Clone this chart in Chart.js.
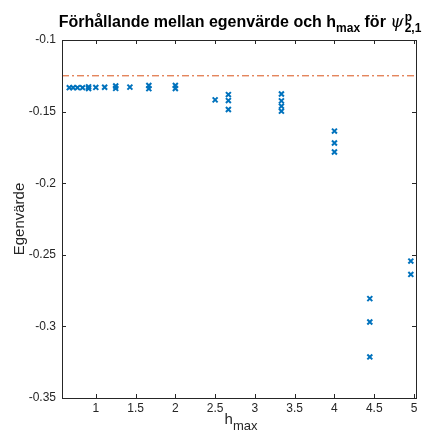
<!DOCTYPE html>
<html>
<head>
<meta charset="utf-8">
<script src="https://cdn.jsdelivr.net/npm/chart.js@4.4.0/dist/chart.umd.min.js"></script>
<style>
  html, body { margin: 0; padding: 0; background: #fff; }
  #wrap { position: relative; width: 422px; height: 432px; }
  #title {
    position: absolute; left: 240px; top: 11px; transform: translateX(-50%);
    white-space: nowrap; font: bold 16px "Liberation Sans", Arial, sans-serif; color: #000;
  }
  #title sub { font-size: 12px; vertical-align: -5px; }
  #title .psi { font: italic 17px "DejaVu Serif", serif; font-weight: normal; }
  #title .ss { display: inline-block; vertical-align: -5px; line-height: 11px; font-size: 12px; text-align: left; margin-left: 1px; }
  #xlabel {
    position: absolute; left: 241px; top: 410px; transform: translateX(-50%);
    white-space: nowrap; font: 15px "Liberation Sans", Arial, sans-serif; color: #262626;
    line-height: 17px;
  }
  #xlabel sub { font-size: 13px; vertical-align: -6px; line-height: 0; }
</style>
</head>
<body>
<div id="wrap">
  <canvas id="chart-eigen" width="422" height="432"></canvas>
  <div id="title">Förhållande mellan egenvärde och h<sub>max</sub> för <span class="psi">ψ</span><span class="ss">p<br>2,1</span></div>
  <div id="xlabel">h<sub>max</sub></div>
</div>
<script>
// data
var hmax = [0.6667, 0.7143, 0.7692, 0.8333, 0.9091, 0.9091, 1.0, 1.1111, 1.25, 1.25,
            1.4286, 1.6667, 1.6667, 2.0, 2.0, 2.5, 2.6667, 2.6667, 2.6667,
            3.3333, 3.3333, 3.3333, 3.3333, 4.0, 4.0, 4.0, 4.4444, 4.4444, 4.4444, 4.96, 4.96];
var egenvarde = [-0.1333, -0.1333, -0.1333, -0.1333, -0.1327, -0.1339, -0.1331, -0.1330, -0.1321, -0.1338,
                 -0.1329, -0.1318, -0.1340, -0.1317, -0.1339, -0.1418, -0.1381, -0.1423, -0.1485,
                 -0.1377, -0.1425, -0.1462, -0.1497, -0.1636, -0.1719, -0.1782, -0.2806, -0.2969, -0.3213, -0.2544, -0.2637];
var referens = -0.125;
var xTicks = [1, 1.5, 2, 2.5, 3, 3.5, 4, 4.5, 5];
var yTicks = [-0.35, -0.3, -0.25, -0.2, -0.15, -0.1];
var xMin = 0.575, xMax = 5.025;

var points = hmax.map(function (h, i) { return { x: h, y: egenvarde[i] }; });
var refLine = [{ x: xMin, y: referens }, { x: xMax, y: referens }];

var axisColor = '#262626';
var tickFont = { family: '"Liberation Sans", Arial, sans-serif', size: 12 };

// box round the plot with inward tick marks, like the original figure
var boxTicks = {
    id: 'boxTicks',
    afterDraw: function (chart) {
        var c = chart.ctx, a = chart.chartArea, sx = chart.scales.x, sy = chart.scales.y;
        c.save();
        c.strokeStyle = axisColor;
        c.lineWidth = 1;
        c.strokeRect(Math.round(a.left) + 0.5, Math.round(a.top) + 0.5,
                     Math.round(a.right - a.left), Math.round(a.bottom - a.top));
        c.beginPath();
        xTicks.forEach(function (t) {
            var px = Math.round(sx.getPixelForValue(t)) + 0.5;
            c.moveTo(px, a.bottom); c.lineTo(px, a.bottom - 4);
            c.moveTo(px, a.top); c.lineTo(px, a.top + 4);
        });
        yTicks.forEach(function (t) {
            var py = Math.round(sy.getPixelForValue(t)) + 0.5;
            c.moveTo(a.left, py); c.lineTo(a.left + 4, py);
            c.moveTo(a.right, py); c.lineTo(a.right - 4, py);
        });
        c.stroke();
        c.restore();
    }
};

var ctx = document.getElementById('chart-eigen').getContext('2d');
var eigenChart = new Chart(ctx, {
    type: 'scatter',
    data: {
        datasets: [{
            label: 'Egenvärde',
            data: points,
            pointStyle: 'crossRot',
            pointRadius: 3.5,
            pointBorderWidth: 2,
            borderColor: '#0072BD',
            backgroundColor: '#0072BD'
        }, {
            type: 'line',
            label: 'Referens',
            data: refLine,
            borderColor: '#D95319',
            borderWidth: 1,
            borderDash: [7, 3, 2, 3],
            pointRadius: 0,
            fill: false
        }]
    },
    options: {
        responsive: false,
        animation: false,
        layout: { padding: { top: 40, right: 4, left: 0, bottom: 0 } },
        plugins: {
            legend: { display: false },
            tooltip: { enabled: false }
        },
        scales: {
            x: {
                type: 'linear',
                min: xMin,
                max: xMax,
                grid: { display: false, drawTicks: false },
                border: { display: false },
                afterBuildTicks: function (scale) {
                    scale.ticks = xTicks.map(function (v) { return { value: v }; });
                },
                afterFit: function (scale) { scale.height = 34; },
                ticks: {
                    color: axisColor,
                    font: tickFont,
                    padding: 3,
                    maxRotation: 0,
                    callback: function (v) { return String(v); }
                }
            },
            y: {
                type: 'linear',
                min: -0.35,
                max: -0.1,
                grid: { display: false, drawTicks: false },
                border: { display: false },
                afterBuildTicks: function (scale) {
                    scale.ticks = yTicks.map(function (v) { return { value: v }; });
                },
                afterFit: function (scale) { scale.width = 62; },
                title: {
                    display: true,
                    text: 'Egenvärde',
                    color: axisColor,
                    font: { family: '"Liberation Sans", Arial, sans-serif', size: 15 },
                    padding: { top: 11, bottom: 0 }
                },
                ticks: {
                    color: axisColor,
                    font: tickFont,
                    padding: 6,
                    callback: function (v) { return String(Math.round(v * 100) / 100); }
                }
            }
        }
    },
    plugins: [boxTicks]
});
</script>
</body>
</html>
